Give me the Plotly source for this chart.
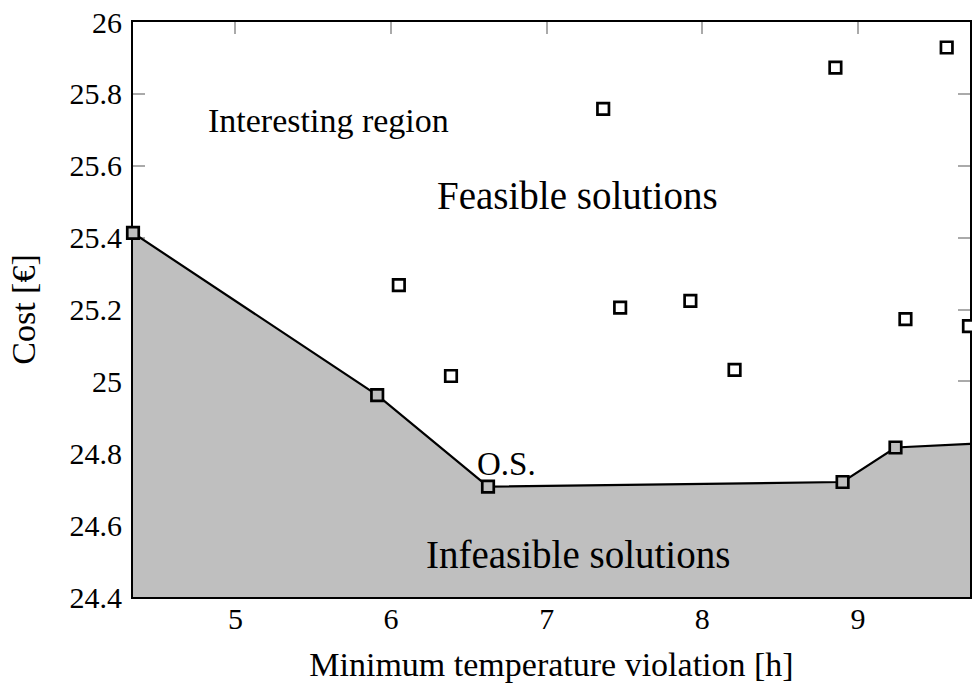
import plotly.graph_objects as go

# Cost-optimal front: lowest cost found for each temperature-violation level
front_violation = [4.342, 5.911, 6.623, 8.901, 9.241, 9.752]
front_cost = [25.413, 24.962, 24.707, 24.720, 24.816, 24.827]

# Remaining evaluated (feasible, dominated) solutions
other_violation = [6.050, 6.385, 7.363, 7.472, 7.923, 8.207, 8.855, 9.305, 9.570, 9.713]
other_cost = [25.268, 25.015, 25.758, 25.205, 25.224, 25.032, 25.873, 25.173, 25.929, 25.154]

x_ticks = [5, 6, 7, 8, 9]
x_tick_labels = ["5", "6", "7", "8", "9"]
y_ticks = [24.4, 24.6, 24.8, 25.0, 25.2, 25.4, 25.6, 25.8, 26.0]
y_tick_labels = ["24.4", "24.6", "24.8", "25", "25.2", "25.4", "25.6", "25.8", "26"]

FONT = "Liberation Serif, Times New Roman, serif"
GREY = "#bfbfbf"

fig = go.Figure()

# Infeasible region below the front, with the front line itself
fig.add_trace(go.Scatter(
    x=front_violation, y=front_cost,
    mode="lines+markers",
    fill="tozeroy", fillcolor=GREY,
    line=dict(color="black", width=2.2),
    marker=dict(symbol="square", size=11.5, color=GREY,
                line=dict(color="black", width=2.7)),
    cliponaxis=False,
    showlegend=False,
))

fig.add_trace(go.Scatter(
    x=other_violation, y=other_cost,
    mode="markers",
    marker=dict(symbol="square", size=11.5, color="white",
                line=dict(color="black", width=2.7)),
    cliponaxis=False,
    showlegend=False,
))

annotations = [
    dict(x=5.596, y=25.725, text="Interesting region", size=34),
    dict(x=7.198, y=25.516, text="Feasible solutions", size=39),
    dict(x=7.201, y=24.517, text="Infeasible solutions", size=39),
    dict(x=6.743, y=24.769, text="O.S.", size=33),
]
for a in annotations:
    fig.add_annotation(
        x=a["x"], y=a["y"], xref="x", yref="y", text=a["text"],
        showarrow=False, xanchor="center", yanchor="middle",
        font=dict(family=FONT, size=a["size"], color="black"),
    )

fig.update_layout(
    width=972, height=683,
    margin=dict(l=133, r=0, t=22, b=85.5),
    paper_bgcolor="white", plot_bgcolor="white",
    font=dict(family=FONT, color="black"),
    xaxis=dict(
        range=[4.342, 9.7197],
        tickvals=x_ticks, ticktext=x_tick_labels,
        ticks="inside", ticklen=12, tickwidth=1.5, tickcolor="#aaaaaa",
        showline=True, linecolor="black", linewidth=2, mirror="ticks",
        showgrid=False, zeroline=False,
        tickfont=dict(family=FONT, size=30, color="black"),
        ticklabelstandoff=-6,
        title=dict(text="Minimum temperature violation [h]",
                   font=dict(family=FONT, size=34), standoff=24),
        layer="below traces",
    ),
    yaxis=dict(
        range=[24.4, 26.0],
        tickvals=y_ticks, ticktext=y_tick_labels,
        ticks="inside", ticklen=12, tickwidth=1.5, tickcolor="#aaaaaa",
        showline=True, linecolor="black", linewidth=2, mirror="ticks",
        showgrid=False, zeroline=False,
        tickfont=dict(family=FONT, size=30, color="black"),
        ticklabelstandoff=3,
        title=dict(text="Cost [€]", font=dict(family=FONT, size=34), standoff=24),
        layer="below traces",
    ),
)

fig.write_html("out.html")
